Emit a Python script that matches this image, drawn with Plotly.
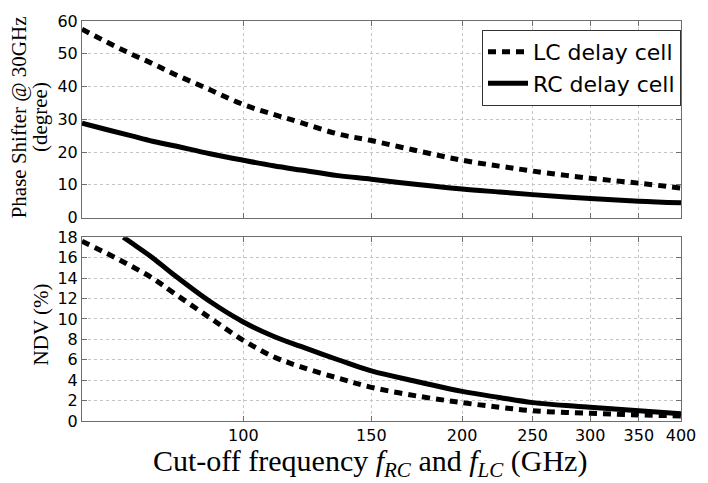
import plotly.graph_objects as go
import math

# Phase shift @ 30 GHz (degree)
freq = [60, 65, 70, 75, 80, 90, 100, 110, 120, 135, 150, 175, 200, 225, 250, 300, 350, 400]
phase_lc = [57.5, 53.5, 50.0, 47.0, 44.0, 39.0, 34.5, 31.5, 29.0, 25.5, 23.5, 20.2, 17.5, 15.7, 14.2, 12.0, 10.5, 9.0]
phase_rc = [28.8, 26.8, 25.0, 23.3, 22.0, 19.5, 17.5, 15.8, 14.5, 12.8, 11.7, 10.0, 8.7, 7.8, 7.0, 5.8, 5.0, 4.5]

# NDV (%)
ndv_lc_freq = [60, 65, 70, 75, 80, 90, 100, 110, 120, 135, 150, 175, 200, 225, 250, 300, 350, 400]
ndv_lc = [17.6, 16.4, 15.2, 14.0, 12.6, 10.1, 7.9, 6.3, 5.3, 4.2, 3.3, 2.4, 1.8, 1.35, 1.0, 0.75, 0.6, 0.5]
ndv_rc_freq = [68.4, 70, 75, 80, 90, 100, 110, 120, 135, 150, 175, 200, 225, 250, 300, 350, 400]
ndv_rc = [18.0, 17.5, 16.0, 14.4, 11.7, 9.7, 8.3, 7.3, 6.0, 4.9, 3.8, 2.9, 2.3, 1.8, 1.35, 1.0, 0.7]

x_ticks = [100, 150, 200, 250, 300, 350, 400]
top_ticks = [0, 10, 20, 30, 40, 50, 60]
bot_ticks = [0, 2, 4, 6, 8, 10, 12, 14, 16, 18]

DASH = "8px,6px"
LW = 5

def line(dash=None):
    d = dict(color="black", width=LW, shape="spline", smoothing=1.0)
    if dash:
        d["dash"] = dash
    return d

fig = go.Figure()
fig.add_trace(go.Scatter(x=freq, y=phase_lc, mode="lines", name="LC delay cell",
                         line=line(DASH), xaxis="x", yaxis="y", showlegend=True))
fig.add_trace(go.Scatter(x=freq, y=phase_rc, mode="lines", name="RC delay cell",
                         line=line(), xaxis="x", yaxis="y", showlegend=True))
fig.add_trace(go.Scatter(x=ndv_lc_freq, y=ndv_lc, mode="lines", name="LC delay cell",
                         line=line(DASH), xaxis="x2", yaxis="y2", showlegend=False))
fig.add_trace(go.Scatter(x=ndv_rc_freq, y=ndv_rc, mode="lines", name="RC delay cell",
                         line=line(), xaxis="x2", yaxis="y2", showlegend=False))

W, H = 708, 483
ml, mr, mt, mb = 82, 17, 14, 62
ph = H - mt - mb
top_dom = [1 - 200 / ph, 1]
bot_dom = [0, 187 / ph]

sans = "DejaVu Sans, Arial"
axis_common = dict(
    showline=True, linecolor="#6e6e6e", linewidth=1, mirror="ticks",
    ticks="inside", ticklen=5, tickcolor="#6e6e6e",
    showgrid=True, gridcolor="#c4c4c4", griddash="dot", gridwidth=1,
    zeroline=False,
    tickfont=dict(family=sans, size=16, color="black"),
)
xr = [math.log10(60), math.log10(400)]

fig.update_layout(
    width=W, height=H,
    margin=dict(l=ml, r=mr, t=mt, b=mb),
    paper_bgcolor="white", plot_bgcolor="white",
    xaxis=dict(type="log", range=xr, tickvals=x_ticks, showticklabels=False,
               anchor="y", domain=[0, 1], **axis_common),
    yaxis=dict(range=[0, 60], tickvals=top_ticks, domain=top_dom, anchor="x", **axis_common),
    xaxis2=dict(type="log", range=xr, tickvals=x_ticks, ticktext=[str(v) for v in x_ticks],
                anchor="y2", domain=[0, 1], matches="x", **axis_common),
    yaxis2=dict(range=[0, 18], tickvals=bot_ticks, domain=bot_dom, anchor="x2", **axis_common),
    legend=dict(x=1, y=1 - 9 / ph, xanchor="right", yanchor="top",
                bgcolor="white", bordercolor="#333333", borderwidth=1,
                font=dict(family=sans, size=22, color="black"),
                itemwidth=40, tracegroupgap=0),
    showlegend=True,
)

serif = "Liberation Serif, Times New Roman"
fig.add_annotation(text="Phase Shifter @ 30GHz", textangle=-90, xref="paper", yref="paper",
                   x=-(ml - 18) / (W - ml - mr), y=1 - (112 - mt) / ph, showarrow=False,
                   xanchor="center", yanchor="middle",
                   font=dict(family=serif, size=21, color="black"))
fig.add_annotation(text="(degree)", textangle=-90, xref="paper", yref="paper",
                   x=-(ml - 40) / (W - ml - mr), y=1 - (112 - mt) / ph, showarrow=False,
                   xanchor="center", yanchor="middle",
                   font=dict(family=serif, size=21, color="black"))
fig.add_annotation(text="NDV (%)", textangle=-90, xref="paper", yref="paper",
                   x=-(ml - 40) / (W - ml - mr), y=1 - (323 - mt) / ph, showarrow=False,
                   xanchor="center", yanchor="middle",
                   font=dict(family=serif, size=21, color="black"))
fig.add_annotation(text="Cut-off frequency <i>f<sub>RC</sub></i> and <i>f<sub>LC</sub></i> (GHz)",
                   xref="paper", yref="paper",
                   x=(375 - ml) / (W - ml - mr), y=-(464 - (H - mb)) / ph, showarrow=False,
                   xanchor="center", yanchor="middle",
                   font=dict(family=serif, size=30, color="black"))

fig.write_html("out.html")
